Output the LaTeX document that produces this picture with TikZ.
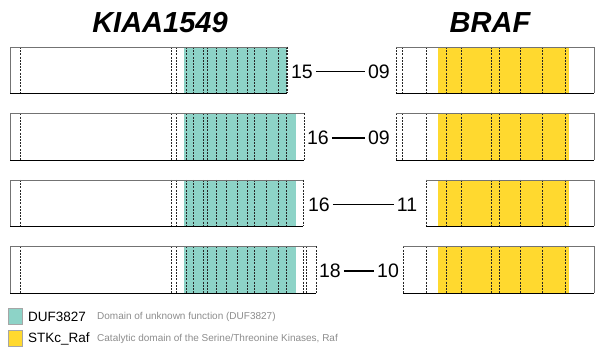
\documentclass[tikz,border=0pt]{standalone}
\usepackage{fontspec}
\setmainfont{Liberation Sans}
\definecolor{duf}{HTML}{8DD3C7}
\definecolor{stk}{HTML}{FFD92F}

\begin{document}
\begin{tikzpicture}[x=1pt, y=-1pt,
    cut/.style={dash pattern=on 2pt off 1.2pt, line width=0.7pt, black!85},
    rim/.style={line width=0.9pt, black!55},
    base/.style={line width=0.9pt, black},
    num/.style={font=\fontsize{19.5}{19.5}\selectfont, inner xsep=3pt, inner ysep=0pt, outer sep=0pt},
    gene/.style={font=\fontsize{29}{29}\selectfont\bfseries\itshape},
    key/.style={draw=black!35, line width=0.5pt, minimum width=14, minimum height=16, inner sep=0},
    keyname/.style={anchor=west, inner sep=0, font=\fontsize{13.5}{13.5}\selectfont},
    keytext/.style={anchor=west, inner sep=0, text=black!45, font=\fontsize{10}{10}\selectfont}]
\useasboundingbox (0,0) rectangle (595,347);

\node[gene] (kiaa) at (160,23) {KIAA1549};
\node[gene] (braf) at (490,23) {BRAF};

% one row per fusion: top / left end / teal end / right start / numbers / extra cuts
\foreach \t/\r/\e/\s/\ln/\rn/\lx/\rx/\xl/\xr [count=\i] in {
    47/287/287/396/15/09/302/379/287/{402,426},
    113.5/304/296/396/16/09/318/379/304/{402,426},
    180/303/296/426/16/11/319/407/303/426,
    246.5/316/296/403/18/10/330/388/{303,306}/426}
{
    % KIAA1549 part
    \fill[duf] (184,\t) rectangle (\e,\t+46.5);
    \foreach \x in {20,171,176,186,193,203,207,216,226,237,247,254,266,278,286,\r}
        \draw[cut] (\x,\t) -- (\x,\t+46.5);
    \foreach \x in \xl
        \draw[cut] (\x,\t) -- (\x,\t+46.5);
    \draw[rim] (\r,\t) -- (10,\t) -- (10,\t+46.5);
    \draw[base] (10,\t+46.5) -- (\r,\t+46.5);

    % BRAF part
    \fill[stk] (438,\t) rectangle (569,\t+46.5);
    \foreach \x in {446,461,491,499,520,542,565,\s}
        \draw[cut] (\x,\t) -- (\x,\t+46.5);
    \foreach \x in \xr
        \draw[cut] (\x,\t) -- (\x,\t+46.5);
    \draw[rim] (\s,\t) -- (594,\t) -- (594,\t+46.5);
    \draw[base] (\s,\t+46.5) -- (594,\t+46.5);

    % breakpoint
    \node[num] (l\i) at (\lx,\t+24.5) {\ln};
    \node[num] (r\i) at (\rx,\t+24.5) {\rn};
    \draw[line width=1.2pt] (l\i) -- (r\i);
}

% legend
\node[key, fill=duf] (k1) at (15.5,316.5) {};
\node[keyname] (n1) at (28,317) {DUF3827};
\node[keytext] (d1) at (97,317) {Domain of unknown function (DUF3827)};
\node[key, fill=stk] (k2) at (15.5,338.5) {};
\node[keyname] (n2) at (28,339) {STKc\_Raf};
\node[keytext] (d2) at (97,339) {Catalytic domain of the Serine/Threonine Kinases, Raf};
\end{tikzpicture}
\end{document}
